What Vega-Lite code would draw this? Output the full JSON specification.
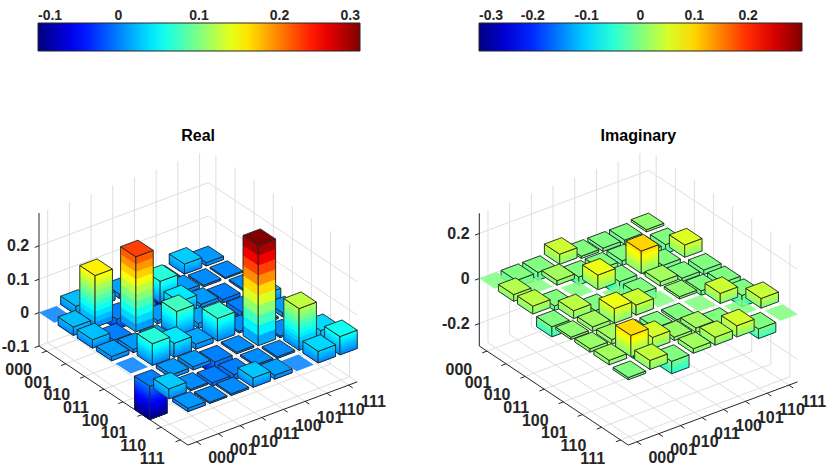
{
  "$schema": "https://vega.github.io/schema/vega-lite/v6.json",
  "width": 830,
  "height": 470,
  "autosize": {"type": "none"},
  "padding": 0,
  "background": "white",
  "params": [
    {"name": "geo", "value": {
      "Real": {"ox": 0, "zs": 334, "z0": -0.1, "z1": 0.298},
      "Imaginary": {"ox": 440.3, "zs": 225, "z0": -0.3, "z1": 0.29}
    }}
  ],
  "datasets": {
    "bars": [
      {"part": "Real", "row": "000", "col": "111", "value": 0.01},
      {"part": "Real", "row": "000", "col": "110", "value": 0.03},
      {"part": "Real", "row": "000", "col": "101", "value": -0.1},
      {"part": "Real", "row": "000", "col": "100", "value": 0},
      {"part": "Real", "row": "000", "col": "011", "value": 0.013},
      {"part": "Real", "row": "000", "col": "010", "value": 0.025},
      {"part": "Real", "row": "000", "col": "001", "value": 0.025},
      {"part": "Real", "row": "000", "col": "000", "value": 0},
      {"part": "Real", "row": "001", "col": "111", "value": 0.004},
      {"part": "Real", "row": "001", "col": "110", "value": 0.005},
      {"part": "Real", "row": "001", "col": "101", "value": 0.01},
      {"part": "Real", "row": "001", "col": "100", "value": 0.065},
      {"part": "Real", "row": "001", "col": "011", "value": 0.01},
      {"part": "Real", "row": "001", "col": "010", "value": -0.03},
      {"part": "Real", "row": "001", "col": "001", "value": 0.155},
      {"part": "Real", "row": "001", "col": "000", "value": 0.025},
      {"part": "Real", "row": "010", "col": "111", "value": 0.005},
      {"part": "Real", "row": "010", "col": "110", "value": -0.01},
      {"part": "Real", "row": "010", "col": "101", "value": 0.01},
      {"part": "Real", "row": "010", "col": "100", "value": 0.042},
      {"part": "Real", "row": "010", "col": "011", "value": 0.01},
      {"part": "Real", "row": "010", "col": "010", "value": 0.225},
      {"part": "Real", "row": "010", "col": "001", "value": -0.03},
      {"part": "Real", "row": "010", "col": "000", "value": 0.025},
      {"part": "Real", "row": "011", "col": "111", "value": 0.028},
      {"part": "Real", "row": "011", "col": "110", "value": -0.015},
      {"part": "Real", "row": "011", "col": "101", "value": -0.04},
      {"part": "Real", "row": "011", "col": "100", "value": 0.015},
      {"part": "Real", "row": "011", "col": "011", "value": 0.075},
      {"part": "Real", "row": "011", "col": "010", "value": 0.01},
      {"part": "Real", "row": "011", "col": "001", "value": 0.01},
      {"part": "Real", "row": "011", "col": "000", "value": 0.013},
      {"part": "Real", "row": "100", "col": "111", "value": 0.012},
      {"part": "Real", "row": "100", "col": "110", "value": 0.005},
      {"part": "Real", "row": "100", "col": "101", "value": 0.005},
      {"part": "Real", "row": "100", "col": "100", "value": 0.068},
      {"part": "Real", "row": "100", "col": "011", "value": 0.015},
      {"part": "Real", "row": "100", "col": "010", "value": 0.042},
      {"part": "Real", "row": "100", "col": "001", "value": 0.065},
      {"part": "Real", "row": "100", "col": "000", "value": 0},
      {"part": "Real", "row": "101", "col": "111", "value": 0},
      {"part": "Real", "row": "101", "col": "110", "value": 0.005},
      {"part": "Real", "row": "101", "col": "101", "value": 0.3},
      {"part": "Real", "row": "101", "col": "100", "value": 0.005},
      {"part": "Real", "row": "101", "col": "011", "value": -0.04},
      {"part": "Real", "row": "101", "col": "010", "value": 0.01},
      {"part": "Real", "row": "101", "col": "001", "value": 0.01},
      {"part": "Real", "row": "101", "col": "000", "value": -0.1},
      {"part": "Real", "row": "110", "col": "111", "value": 0.035},
      {"part": "Real", "row": "110", "col": "110", "value": 0.125},
      {"part": "Real", "row": "110", "col": "101", "value": 0.005},
      {"part": "Real", "row": "110", "col": "100", "value": 0.005},
      {"part": "Real", "row": "110", "col": "011", "value": -0.015},
      {"part": "Real", "row": "110", "col": "010", "value": -0.01},
      {"part": "Real", "row": "110", "col": "001", "value": 0.005},
      {"part": "Real", "row": "110", "col": "000", "value": 0.03},
      {"part": "Real", "row": "111", "col": "111", "value": 0.055},
      {"part": "Real", "row": "111", "col": "110", "value": 0.035},
      {"part": "Real", "row": "111", "col": "101", "value": 0},
      {"part": "Real", "row": "111", "col": "100", "value": 0.012},
      {"part": "Real", "row": "111", "col": "011", "value": 0.028},
      {"part": "Real", "row": "111", "col": "010", "value": 0.005},
      {"part": "Real", "row": "111", "col": "001", "value": 0.004},
      {"part": "Real", "row": "111", "col": "000", "value": 0.01},
      {"part": "Imaginary", "row": "000", "col": "111", "value": 0.01},
      {"part": "Imaginary", "row": "000", "col": "110", "value": -0.02},
      {"part": "Imaginary", "row": "000", "col": "101", "value": -0.015},
      {"part": "Imaginary", "row": "000", "col": "100", "value": -0.01},
      {"part": "Imaginary", "row": "000", "col": "011", "value": 0.045},
      {"part": "Imaginary", "row": "000", "col": "010", "value": -0.035},
      {"part": "Imaginary", "row": "000", "col": "001", "value": -0.03},
      {"part": "Imaginary", "row": "000", "col": "000", "value": 0},
      {"part": "Imaginary", "row": "001", "col": "111", "value": -0.04},
      {"part": "Imaginary", "row": "001", "col": "110", "value": -0.095},
      {"part": "Imaginary", "row": "001", "col": "101", "value": -0.02},
      {"part": "Imaginary", "row": "001", "col": "100", "value": -0.02},
      {"part": "Imaginary", "row": "001", "col": "011", "value": -0.035},
      {"part": "Imaginary", "row": "001", "col": "010", "value": 0.02},
      {"part": "Imaginary", "row": "001", "col": "001", "value": 0},
      {"part": "Imaginary", "row": "001", "col": "000", "value": 0.03},
      {"part": "Imaginary", "row": "010", "col": "111", "value": 0.055},
      {"part": "Imaginary", "row": "010", "col": "110", "value": -0.05},
      {"part": "Imaginary", "row": "010", "col": "101", "value": 0.1},
      {"part": "Imaginary", "row": "010", "col": "100", "value": -0.065},
      {"part": "Imaginary", "row": "010", "col": "011", "value": 0.065},
      {"part": "Imaginary", "row": "010", "col": "010", "value": 0},
      {"part": "Imaginary", "row": "010", "col": "001", "value": -0.02},
      {"part": "Imaginary", "row": "010", "col": "000", "value": 0.035},
      {"part": "Imaginary", "row": "011", "col": "111", "value": -0.02},
      {"part": "Imaginary", "row": "011", "col": "110", "value": -0.015},
      {"part": "Imaginary", "row": "011", "col": "101", "value": 0.02},
      {"part": "Imaginary", "row": "011", "col": "100", "value": -0.045},
      {"part": "Imaginary", "row": "011", "col": "011", "value": 0},
      {"part": "Imaginary", "row": "011", "col": "010", "value": -0.065},
      {"part": "Imaginary", "row": "011", "col": "001", "value": 0.035},
      {"part": "Imaginary", "row": "011", "col": "000", "value": -0.045},
      {"part": "Imaginary", "row": "100", "col": "111", "value": -0.035},
      {"part": "Imaginary", "row": "100", "col": "110", "value": -0.02},
      {"part": "Imaginary", "row": "100", "col": "101", "value": 0.01},
      {"part": "Imaginary", "row": "100", "col": "100", "value": 0},
      {"part": "Imaginary", "row": "100", "col": "011", "value": 0.045},
      {"part": "Imaginary", "row": "100", "col": "010", "value": 0.065},
      {"part": "Imaginary", "row": "100", "col": "001", "value": 0.02},
      {"part": "Imaginary", "row": "100", "col": "000", "value": 0.01},
      {"part": "Imaginary", "row": "101", "col": "111", "value": -0.05},
      {"part": "Imaginary", "row": "101", "col": "110", "value": 0.045},
      {"part": "Imaginary", "row": "101", "col": "101", "value": 0},
      {"part": "Imaginary", "row": "101", "col": "100", "value": -0.01},
      {"part": "Imaginary", "row": "101", "col": "011", "value": -0.02},
      {"part": "Imaginary", "row": "101", "col": "010", "value": -0.1},
      {"part": "Imaginary", "row": "101", "col": "001", "value": 0.02},
      {"part": "Imaginary", "row": "101", "col": "000", "value": 0.015},
      {"part": "Imaginary", "row": "110", "col": "111", "value": 0.043},
      {"part": "Imaginary", "row": "110", "col": "110", "value": 0},
      {"part": "Imaginary", "row": "110", "col": "101", "value": -0.045},
      {"part": "Imaginary", "row": "110", "col": "100", "value": 0.02},
      {"part": "Imaginary", "row": "110", "col": "011", "value": 0.015},
      {"part": "Imaginary", "row": "110", "col": "010", "value": 0.05},
      {"part": "Imaginary", "row": "110", "col": "001", "value": 0.095},
      {"part": "Imaginary", "row": "110", "col": "000", "value": 0.02},
      {"part": "Imaginary", "row": "111", "col": "111", "value": 0},
      {"part": "Imaginary", "row": "111", "col": "110", "value": -0.043},
      {"part": "Imaginary", "row": "111", "col": "101", "value": 0.05},
      {"part": "Imaginary", "row": "111", "col": "100", "value": 0.035},
      {"part": "Imaginary", "row": "111", "col": "011", "value": 0.02},
      {"part": "Imaginary", "row": "111", "col": "010", "value": -0.055},
      {"part": "Imaginary", "row": "111", "col": "001", "value": 0.04},
      {"part": "Imaginary", "row": "111", "col": "000", "value": -0.01}
    ],
    "zticks": [
      {"part": "Real", "z": -0.1},
      {"part": "Real", "z": 0},
      {"part": "Real", "z": 0.1},
      {"part": "Real", "z": 0.2},
      {"part": "Imaginary", "z": -0.2},
      {"part": "Imaginary", "z": 0},
      {"part": "Imaginary", "z": 0.2}
    ]
  },
  "layer": [
    {
      "data": {"name": "bars"},
      "transform": [
        {"calculate": "indexof(['000','001','010','011','100','101','110','111'], datum.row) + 1", "as": "r"},
        {"calculate": "indexof(['000','001','010','011','100','101','110','111'], datum.col) + 1", "as": "c"},
        {"calculate": "geo[datum.part]", "as": "g"},
        {"calculate": "[0, 1, 2, 3]", "as": "k"},
        {"flatten": ["k"]},
        {"filter": "(datum.k < 2 && datum.r == 1) || (datum.k >= 2 && datum.c == 8)"},
        {"calculate": "datum.k < 2 ? 0.6 : datum.r", "as": "ra"},
        {"calculate": "datum.k < 2 ? datum.c : (datum.k == 2 ? 8.4 : 0.6)", "as": "ca"},
        {"calculate": "datum.k == 1 ? 8.4 : (datum.k < 2 ? 0.6 : datum.r)", "as": "rb"},
        {"calculate": "datum.k < 2 ? datum.c : 8.4", "as": "cb"},
        {"calculate": "datum.k == 0 || datum.k == 2 ? datum.g.z1 : datum.g.z0", "as": "zz"},
        {"calculate": "datum.g.ox + 14.52 + 21.7 * datum.ca + 19.1 * datum.ra", "as": "px"},
        {"calculate": "126.76 + 8.1 * datum.ca - 12.7 * datum.ra", "as": "py"},
        {"calculate": "datum.g.ox + 14.52 + 21.7 * datum.cb + 19.1 * datum.rb", "as": "px2"},
        {"calculate": "126.76 + 8.1 * datum.cb - 12.7 * datum.rb + (datum.zz - datum.g.z0) * datum.g.zs", "as": "py2"}
      ],
      "mark": {"type": "rule", "color": "#dedede", "strokeWidth": 1},
      "encoding": {
        "x": {"field": "px", "type": "quantitative", "scale": {"domain": [0, 830], "nice": false, "zero": false}, "axis": null},
        "y": {"field": "py", "type": "quantitative", "scale": {"domain": [0, 470], "nice": false, "zero": false}, "axis": null},
        "x2": {"field": "px2"},
        "y2": {"field": "py2"}
      }
    },
    {
      "data": {"name": "zticks"},
      "transform": [
        {"calculate": "geo[datum.part]", "as": "g"},
        {"calculate": "[0, 1]", "as": "k"},
        {"flatten": ["k"]},
        {"calculate": "datum.k == 0 ? 0.6 : 8.4", "as": "ca"},
        {"calculate": "datum.k == 0 ? 0.6 : 8.4", "as": "rb"},
        {"calculate": "datum.g.ox + 14.52 + 21.7 * datum.ca + 19.1 * 0.6", "as": "px"},
        {"calculate": "126.76 + 8.1 * datum.ca - 12.7 * 0.6 + (datum.z - datum.g.z0) * datum.g.zs", "as": "py"},
        {"calculate": "datum.g.ox + 14.52 + 21.7 * 8.4 + 19.1 * datum.rb", "as": "px2"},
        {"calculate": "126.76 + 8.1 * 8.4 - 12.7 * datum.rb + (datum.z - datum.g.z0) * datum.g.zs", "as": "py2"}
      ],
      "mark": {"type": "rule", "color": "#dedede", "strokeWidth": 1},
      "encoding": {
        "x": {"field": "px", "type": "quantitative", "scale": {"domain": [0, 830], "nice": false, "zero": false}, "axis": null},
        "y": {"field": "py", "type": "quantitative", "scale": {"domain": [0, 470], "nice": false, "zero": false}, "axis": null},
        "x2": {"field": "px2"},
        "y2": {"field": "py2"}
      }
    },
    {
      "data": {"name": "bars"},
      "transform": [
        {"filter": "datum.row == '000' && datum.col == '000'"},
        {"calculate": "geo[datum.part]", "as": "g"},
        {"calculate": "[0, 1, 2]", "as": "k"},
        {"flatten": ["k"]},
        {"calculate": "datum.k == 2 ? 8.4 : 0.6", "as": "ra"},
        {"calculate": "datum.k == 0 ? 0.6 : 8.4", "as": "rb"},
        {"calculate": "datum.k == 2 ? 8.4 : 0.6", "as": "cb"},
        {"calculate": "datum.k == 0 ? datum.g.z1 : datum.g.z0", "as": "zz"},
        {"calculate": "datum.g.ox + 14.52 + 21.7 * 0.6 + 19.1 * datum.ra", "as": "px"},
        {"calculate": "126.76 + 8.1 * 0.6 - 12.7 * datum.ra", "as": "py"},
        {"calculate": "datum.g.ox + 14.52 + 21.7 * datum.cb + 19.1 * datum.rb", "as": "px2"},
        {"calculate": "126.76 + 8.1 * datum.cb - 12.7 * datum.rb + (datum.zz - datum.g.z0) * datum.g.zs", "as": "py2"}
      ],
      "mark": {"type": "rule", "color": "#262626", "strokeWidth": 1},
      "encoding": {
        "x": {"field": "px", "type": "quantitative", "scale": {"domain": [0, 830], "nice": false, "zero": false}, "axis": null},
        "y": {"field": "py", "type": "quantitative", "scale": {"domain": [0, 470], "nice": false, "zero": false}, "axis": null},
        "x2": {"field": "px2"},
        "y2": {"field": "py2"}
      }
    },
    {
      "data": {"name": "bars"},
      "transform": [
        {"calculate": "indexof(['000','001','010','011','100','101','110','111'], datum.row) + 1", "as": "r"},
        {"calculate": "indexof(['000','001','010','011','100','101','110','111'], datum.col) + 1", "as": "c"},
        {"calculate": "geo[datum.part]", "as": "g"},
        {"calculate": "[0, 1]", "as": "k"},
        {"flatten": ["k"]},
        {"filter": "(datum.k == 0 && datum.c == 1) || (datum.k == 1 && datum.r == 1)"},
        {"calculate": "datum.k == 0 ? datum.r : 8.4", "as": "ra"},
        {"calculate": "datum.k == 0 ? 0.6 : datum.c", "as": "ca"},
        {"calculate": "datum.k == 0 ? datum.r : 8.62", "as": "rb"},
        {"calculate": "datum.k == 0 ? 0.38 : datum.c", "as": "cb"},
        {"calculate": "datum.g.ox + 14.52 + 21.7 * datum.ca + 19.1 * datum.ra", "as": "px"},
        {"calculate": "126.76 + 8.1 * datum.ca - 12.7 * datum.ra", "as": "py"},
        {"calculate": "datum.g.ox + 14.52 + 21.7 * datum.cb + 19.1 * datum.rb", "as": "px2"},
        {"calculate": "126.76 + 8.1 * datum.cb - 12.7 * datum.rb", "as": "py2"}
      ],
      "mark": {"type": "rule", "color": "#262626", "strokeWidth": 1},
      "encoding": {
        "x": {"field": "px", "type": "quantitative", "scale": {"domain": [0, 830], "nice": false, "zero": false}, "axis": null},
        "y": {"field": "py", "type": "quantitative", "scale": {"domain": [0, 470], "nice": false, "zero": false}, "axis": null},
        "x2": {"field": "px2"},
        "y2": {"field": "py2"}
      }
    },
    {
      "data": {"name": "zticks"},
      "transform": [
        {"calculate": "geo[datum.part]", "as": "g"},
        {"calculate": "datum.g.ox + 14.52 + 21.7 * 0.6 + 19.1 * 0.6", "as": "px"},
        {"calculate": "126.76 + 8.1 * 0.6 - 12.7 * 0.6 + (datum.z - datum.g.z0) * datum.g.zs", "as": "py"},
        {"calculate": "datum.g.ox + 14.52 + 21.7 * 0.4 + 19.1 * 0.6", "as": "px2"},
        {"calculate": "126.76 + 8.1 * 0.4 - 12.7 * 0.6 + (datum.z - datum.g.z0) * datum.g.zs", "as": "py2"}
      ],
      "mark": {"type": "rule", "color": "#262626", "strokeWidth": 1},
      "encoding": {
        "x": {"field": "px", "type": "quantitative", "scale": {"domain": [0, 830], "nice": false, "zero": false}, "axis": null},
        "y": {"field": "py", "type": "quantitative", "scale": {"domain": [0, 470], "nice": false, "zero": false}, "axis": null},
        "x2": {"field": "px2"},
        "y2": {"field": "py2"}
      }
    },
    {
      "data": {"name": "bars"},
      "transform": [
        {"filter": "datum.part == 'Real'"},
        {"calculate": "indexof(['000','001','010','011','100','101','110','111'], datum.row) + 1", "as": "r"},
        {"calculate": "indexof(['000','001','010','011','100','101','110','111'], datum.col) + 1", "as": "c"},
        {"calculate": "geo[datum.part]", "as": "g"},
        {"calculate": "max(datum.value, 0)", "as": "zt"},
        {"calculate": "min(datum.value, 0)", "as": "zb"},
        {"calculate": "[0,1,2,3,4,5,6,7,8,9,10,11,12,13,14,15,16,17,18,19,20,21,22]", "as": "fi"},
        {"flatten": ["fi"]},
        {"filter": "datum.fi == 22 || datum.zt > datum.zb"},
        {"calculate": "datum.fi == 22 ? (datum.zt == datum.zb ? 'flat' : 'top') : (datum.fi == 10 || datum.fi == 21 ? 'edge' : 'band')", "as": "kind"},
        {"calculate": "datum.fi < 10 ? 9 - datum.fi : (datum.fi > 10 && datum.fi < 21 ? 20 - datum.fi : 9)", "as": "j"},
        {"calculate": "datum.zb + (datum.zt - datum.zb) * (datum.j + 1) / 10", "as": "zc"},
        {"calculate": "datum.kind == 'band' ? datum.zb + (datum.zt - datum.zb) * (datum.j + 0.5) / 10 : datum.zt", "as": "cz"},
        {"calculate": "datum.fi == 22 ? [0, 1, 2, 3] : [0, 1]", "as": "pi"},
        {"flatten": ["pi"]},
        {"calculate": "datum.fi <= 10 ? datum.r + (datum.pi == 0 ? -0.4 : 0.4) : (datum.fi <= 21 ? datum.r + 0.4 : datum.r + (datum.pi == 0 || datum.pi == 2 ? -0.4 : 0.4))", "as": "rr"},
        {"calculate": "datum.fi <= 10 ? datum.c - 0.4 : (datum.fi <= 21 ? datum.c + (datum.pi == 0 ? -0.4 : 0.4) : datum.c + (datum.pi <= 1 ? -0.4 : 0.4))", "as": "cc"},
        {"calculate": "datum.g.ox + 14.52 + 21.7 * datum.cc + 19.1 * datum.rr", "as": "px"},
        {"calculate": "126.76 + 8.1 * datum.cc - 12.7 * datum.rr", "as": "base"},
        {"calculate": "126.76 + 8.1 * (datum.c - 0.4) - 12.7 * (datum.r - 0.4) + (datum.zt - datum.g.z0) * datum.g.zs", "as": "yL"},
        {"calculate": "datum.fi == 22 ? datum.yL + (datum.pi == 0 ? 0 : datum.pi == 1 ? 5.7036 : datum.pi == 2 ? 6.48 : -3.68) : datum.base + (datum.zc - datum.g.z0) * datum.g.zs", "as": "py"},
        {"calculate": "datum.fi == 22 ? datum.yL + (datum.pi == 0 ? 0 : datum.pi == 1 ? -10.16 : datum.pi == 2 ? -9.3836 : -3.68) : datum.base + (datum.zb - datum.g.z0) * datum.g.zs", "as": "py2"},
        {"calculate": "datum.row + datum.col + '-' + datum.fi", "as": "fid"}
      ],
      "mark": {"type": "area", "strokeWidth": 0.9, "strokeJoin": "round"},
      "encoding": {
        "x": {"field": "px", "type": "quantitative", "scale": {"domain": [0, 830], "nice": false, "zero": false}, "axis": null},
        "y": {"field": "py", "type": "quantitative", "scale": {"domain": [0, 470], "nice": false, "zero": false}, "axis": null},
        "y2": {"field": "py2"},
        "detail": {"field": "fid"},
        "color": {
          "field": "cz", "type": "quantitative",
          "scale": {"domain": [-0.1, -0.05, 0.05, 0.15, 0.25, 0.3], "range": ["#000080", "#0000ff", "#00ffff", "#ffff00", "#ff0000", "#800000"], "interpolate": "rgb"},
          "legend": {
            "orient": "none", "legendX": 38, "legendY": 23, "direction": "horizontal",
            "gradientLength": 322, "gradientThickness": 28, "title": null, "padding": 0,
            "values": [-0.1, 0, 0.1, 0.2, 0.3], "labelExpr": "toString(datum.value)",
            "labelOffset": -42, "labelBaseline": "middle", "labelAlign": "center", "labelOverlap": false,
            "labelFontSize": 14, "labelFont": "Liberation Sans", "labelFontWeight": "bold", "labelColor": "#262626",
            "gradientStrokeColor": "#262626", "gradientStrokeWidth": 1
          }
        },
        "fillOpacity": {"field": "kind", "type": "nominal", "scale": {"type": "ordinal", "domain": ["band", "edge", "top", "flat"], "range": [1, 0, 1, 0.85]}, "legend": null},
        "stroke": {"field": "kind", "type": "nominal", "scale": {"type": "ordinal", "domain": ["band", "edge", "top", "flat"], "range": ["transparent", "#222222", "#222222", "transparent"]}, "legend": null}
      }
    },
    {
      "data": {"name": "bars"},
      "transform": [
        {"filter": "datum.part == 'Imaginary'"},
        {"calculate": "indexof(['000','001','010','011','100','101','110','111'], datum.row) + 1", "as": "r"},
        {"calculate": "indexof(['000','001','010','011','100','101','110','111'], datum.col) + 1", "as": "c"},
        {"calculate": "geo[datum.part]", "as": "g"},
        {"calculate": "max(datum.value, 0)", "as": "zt"},
        {"calculate": "min(datum.value, 0)", "as": "zb"},
        {"calculate": "[0,1,2,3,4,5,6,7,8,9,10,11,12,13,14,15,16,17,18,19,20,21,22]", "as": "fi"},
        {"flatten": ["fi"]},
        {"filter": "datum.fi == 22 || datum.zt > datum.zb"},
        {"calculate": "datum.fi == 22 ? (datum.zt == datum.zb ? 'flat' : 'top') : (datum.fi == 10 || datum.fi == 21 ? 'edge' : 'band')", "as": "kind"},
        {"calculate": "datum.fi < 10 ? 9 - datum.fi : (datum.fi > 10 && datum.fi < 21 ? 20 - datum.fi : 9)", "as": "j"},
        {"calculate": "datum.zb + (datum.zt - datum.zb) * (datum.j + 1) / 10", "as": "zc"},
        {"calculate": "datum.kind == 'band' ? datum.zb + (datum.zt - datum.zb) * (datum.j + 0.5) / 10 : datum.zt", "as": "cz"},
        {"calculate": "datum.fi == 22 ? [0, 1, 2, 3] : [0, 1]", "as": "pi"},
        {"flatten": ["pi"]},
        {"calculate": "datum.fi <= 10 ? datum.r + (datum.pi == 0 ? -0.4 : 0.4) : (datum.fi <= 21 ? datum.r + 0.4 : datum.r + (datum.pi == 0 || datum.pi == 2 ? -0.4 : 0.4))", "as": "rr"},
        {"calculate": "datum.fi <= 10 ? datum.c - 0.4 : (datum.fi <= 21 ? datum.c + (datum.pi == 0 ? -0.4 : 0.4) : datum.c + (datum.pi <= 1 ? -0.4 : 0.4))", "as": "cc"},
        {"calculate": "datum.g.ox + 14.52 + 21.7 * datum.cc + 19.1 * datum.rr", "as": "px"},
        {"calculate": "126.76 + 8.1 * datum.cc - 12.7 * datum.rr", "as": "base"},
        {"calculate": "126.76 + 8.1 * (datum.c - 0.4) - 12.7 * (datum.r - 0.4) + (datum.zt - datum.g.z0) * datum.g.zs", "as": "yL"},
        {"calculate": "datum.fi == 22 ? datum.yL + (datum.pi == 0 ? 0 : datum.pi == 1 ? 5.7036 : datum.pi == 2 ? 6.48 : -3.68) : datum.base + (datum.zc - datum.g.z0) * datum.g.zs", "as": "py"},
        {"calculate": "datum.fi == 22 ? datum.yL + (datum.pi == 0 ? 0 : datum.pi == 1 ? -10.16 : datum.pi == 2 ? -9.3836 : -3.68) : datum.base + (datum.zb - datum.g.z0) * datum.g.zs", "as": "py2"},
        {"calculate": "datum.row + datum.col + '-' + datum.fi", "as": "fid"}
      ],
      "mark": {"type": "area", "strokeWidth": 0.9, "strokeJoin": "round"},
      "encoding": {
        "x": {"field": "px", "type": "quantitative", "scale": {"domain": [0, 830], "nice": false, "zero": false}, "axis": null},
        "y": {"field": "py", "type": "quantitative", "scale": {"domain": [0, 470], "nice": false, "zero": false}, "axis": null},
        "y2": {"field": "py2"},
        "detail": {"field": "fid"},
        "color": {
          "field": "cz", "type": "quantitative",
          "scale": {"domain": [-0.3, -0.225, -0.075, 0.075, 0.225, 0.3], "range": ["#000080", "#0000ff", "#00ffff", "#ffff00", "#ff0000", "#800000"], "interpolate": "rgb"},
          "legend": {
            "orient": "none", "legendX": 479, "legendY": 23, "direction": "horizontal",
            "gradientLength": 323, "gradientThickness": 28, "title": null, "padding": 0,
            "values": [-0.3, -0.2, -0.1, 0, 0.1, 0.2], "labelExpr": "toString(datum.value)",
            "labelOffset": -42, "labelBaseline": "middle", "labelAlign": "center", "labelOverlap": false,
            "labelFontSize": 14, "labelFont": "Liberation Sans", "labelFontWeight": "bold", "labelColor": "#262626",
            "gradientStrokeColor": "#262626", "gradientStrokeWidth": 1
          }
        },
        "fillOpacity": {"field": "kind", "type": "nominal", "scale": {"type": "ordinal", "domain": ["band", "edge", "top", "flat"], "range": [1, 0, 1, 0.85]}, "legend": null},
        "stroke": {"field": "kind", "type": "nominal", "scale": {"type": "ordinal", "domain": ["band", "edge", "top", "flat"], "range": ["transparent", "#222222", "#222222", "transparent"]}, "legend": null}
      }
    },
    {
      "data": {"name": "bars"},
      "transform": [
        {"filter": "datum.col == '000'"},
        {"calculate": "indexof(['000','001','010','011','100','101','110','111'], datum.row) + 1", "as": "r"},
        {"calculate": "geo[datum.part]", "as": "g"},
        {"calculate": "datum.g.ox + 14.52 + 21.7 * -0.6 + 19.1 * datum.r", "as": "px"},
        {"calculate": "126.76 + 8.1 * -0.6 - 12.7 * datum.r", "as": "py"}
      ],
      "mark": {"type": "text", "dx": -2, "dy": 9, "align": "center", "baseline": "middle", "fontSize": 16, "fontWeight": "bold", "font": "Liberation Sans", "color": "#262626"},
      "encoding": {
        "x": {"field": "px", "type": "quantitative", "scale": {"domain": [0, 830], "nice": false, "zero": false}, "axis": null},
        "y": {"field": "py", "type": "quantitative", "scale": {"domain": [0, 470], "nice": false, "zero": false}, "axis": null},
        "text": {"field": "row"}
      }
    },
    {
      "data": {"name": "bars"},
      "transform": [
        {"filter": "datum.row == '000'"},
        {"calculate": "indexof(['000','001','010','011','100','101','110','111'], datum.col) + 1", "as": "c"},
        {"calculate": "geo[datum.part]", "as": "g"},
        {"calculate": "datum.g.ox + 14.52 + 21.7 * datum.c + 19.1 * 9.7", "as": "px"},
        {"calculate": "126.76 + 8.1 * datum.c - 12.7 * 9.7", "as": "py"}
      ],
      "mark": {"type": "text", "align": "center", "baseline": "middle", "fontSize": 16, "fontWeight": "bold", "font": "Liberation Sans", "color": "#262626"},
      "encoding": {
        "x": {"field": "px", "type": "quantitative", "scale": {"domain": [0, 830], "nice": false, "zero": false}, "axis": null},
        "y": {"field": "py", "type": "quantitative", "scale": {"domain": [0, 470], "nice": false, "zero": false}, "axis": null},
        "text": {"field": "col"}
      }
    },
    {
      "data": {"name": "zticks"},
      "transform": [
        {"calculate": "geo[datum.part]", "as": "g"},
        {"calculate": "datum.g.ox + 14.52 + 21.7 * 0.15 + 19.1 * 0.6", "as": "px"},
        {"calculate": "126.76 + 8.1 * 0.15 - 12.7 * 0.6 + (datum.z - datum.g.z0) * datum.g.zs", "as": "py"},
        {"calculate": "toString(datum.z)", "as": "label"}
      ],
      "mark": {"type": "text", "align": "right", "baseline": "middle", "dy": -3, "fontSize": 16, "fontWeight": "bold", "font": "Liberation Sans", "color": "#262626"},
      "encoding": {
        "x": {"field": "px", "type": "quantitative", "scale": {"domain": [0, 830], "nice": false, "zero": false}, "axis": null},
        "y": {"field": "py", "type": "quantitative", "scale": {"domain": [0, 470], "nice": false, "zero": false}, "axis": null},
        "text": {"field": "label"}
      }
    },
    {
      "data": {"name": "bars"},
      "transform": [
        {"filter": "datum.row == '000' && datum.col == '000'"},
        {"calculate": "geo[datum.part]", "as": "g"},
        {"calculate": "datum.g.ox + 14.52 + 40.8 * 4.5", "as": "px"},
        {"calculate": "126.76 + 8.1 * 8.4 - 12.7 * 0.6 + (datum.g.z1 - datum.g.z0) * datum.g.zs + 14", "as": "py"}
      ],
      "mark": {"type": "text", "align": "center", "baseline": "middle", "fontSize": 16, "fontWeight": "bold", "font": "Liberation Sans", "color": "#000000"},
      "encoding": {
        "x": {"field": "px", "type": "quantitative", "scale": {"domain": [0, 830], "nice": false, "zero": false}, "axis": null},
        "y": {"field": "py", "type": "quantitative", "scale": {"domain": [0, 470], "nice": false, "zero": false}, "axis": null},
        "text": {"field": "part"}
      }
    }
  ],
  "resolve": {"scale": {"color": "independent"}},
  "config": {
    "view": {"stroke": null},
    "text": {"font": "Liberation Sans"}
  }
}
